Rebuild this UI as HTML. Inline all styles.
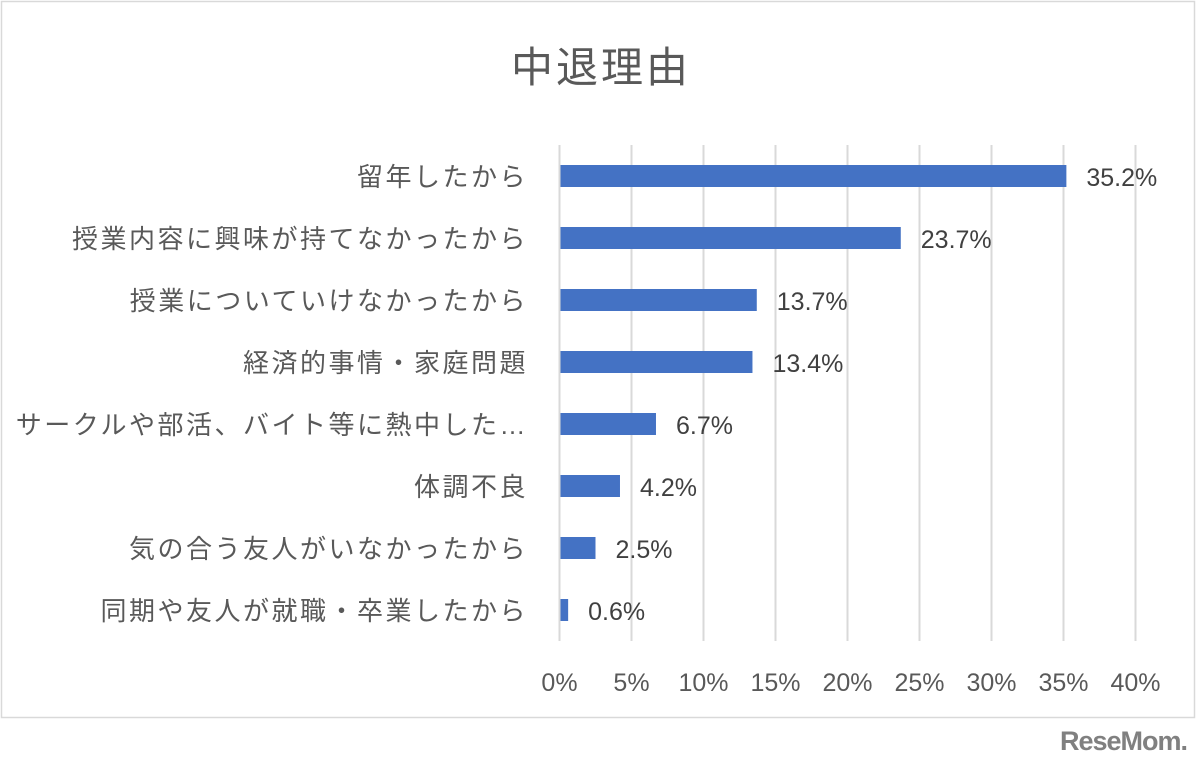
<!DOCTYPE html>
<html><head><meta charset="utf-8"><style>
body{margin:0;background:#fff;}
svg text{font-family:"Liberation Sans","Noto Sans CJK JP",sans-serif;}
</style></head><body>
<svg width="1200" height="760" xmlns="http://www.w3.org/2000/svg">
<rect x="1.5" y="1.5" width="1193" height="716" fill="#fff" stroke="#d9d9d9" stroke-width="1.5"/>
<text x="601" y="82" text-anchor="middle" font-size="42" fill="#595959" style="letter-spacing:3px">中退理由</text>
<g id="grid"></g><g id="bars"></g><g id="labels"></g>
<text x="1187" y="750" text-anchor="end" font-size="27" font-weight="bold" fill="#808080" style="letter-spacing:-1px">ReseMom.</text>
<script>
const categories=["留年したから","授業内容に興味が持てなかったから","授業についていけなかったから","経済的事情・家庭問題","サークルや部活、バイト等に熱中した…","体調不良","気の合う友人がいなかったから","同期や友人が就職・卒業したから"];
const values=[35.2,23.7,13.7,13.4,6.7,4.2,2.5,0.6];
const ticks=[0,5,10,15,20,25,30,35,40];
const NS="http://www.w3.org/2000/svg";
const x=v=>559.5+v*14.4;
const y=i=>176+i*62;
function mk(t,a,p){const e=document.createElementNS(NS,t);for(const k in a)e.setAttribute(k,a[k]);p.appendChild(e);return e;}
const g=document.getElementById('grid'),b=document.getElementById('bars'),l=document.getElementById('labels');
ticks.forEach(t=>{
 const ln=mk('line',{x1:x(t),x2:x(t),y1:145,y2:641,stroke:'#d9d9d9','stroke-width':2},g);
 
 
 const tx=mk('text',{x:x(t),y:691,'text-anchor':'middle','font-size':25,fill:'#595959'},g);
 tx.textContent=t+'%';
 
 
});
categories.forEach((c,i)=>{
 const r=mk('rect',{x:x(0)+1,y:y(i)-11,width:Math.max(0,x(values[i])-x(0)-1),height:22,fill:'#4472c4'},b);
 
 
 const v=mk('text',{x:x(values[i])+20,y:y(i)+10,'font-size':25,fill:'#404040'},l);
 v.textContent=values[i].toFixed(1)+'%';
 
 
 const ct=mk('text',{x:528,y:y(i)+10,'text-anchor':'end','font-size':26,fill:'#595959',style:'letter-spacing:2.5px'},l);
 ct.textContent=c;
 
 
});
</script>
</svg>
</body></html>
